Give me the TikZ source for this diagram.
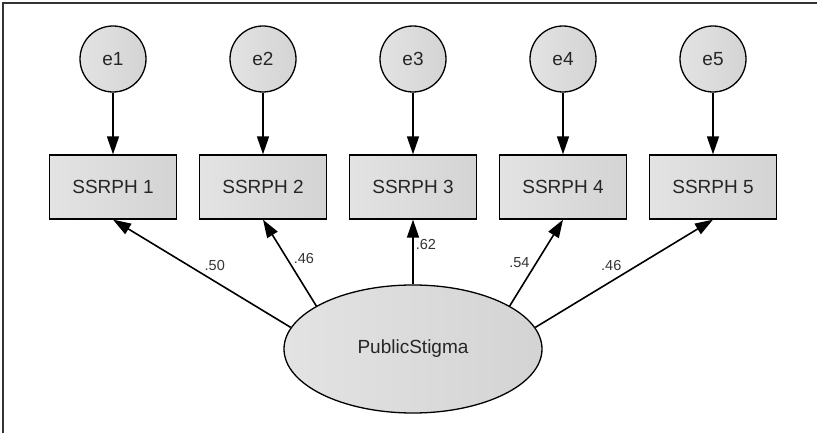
\documentclass[tikz,border=0pt]{standalone}
\usepackage{fontspec}
\setmainfont{Liberation Sans}
\usepackage{tikz}
\usetikzlibrary{positioning,shapes.geometric,arrows.meta}

\begin{document}
\begin{tikzpicture}[x=1pt, y=1pt, node distance=150pt, on grid,
    >={Triangle[length=18pt,width=12pt]},
    errvar/.style={circle, draw=black, line width=1.3pt, left color=black!11, right color=black!17,
        minimum size=66pt, inner sep=0pt, text=black!85, font=\fontsize{19}{22}\selectfont},
    indicator/.style={rectangle, draw=black, line width=1.3pt, left color=black!11, right color=black!17,
        minimum width=127pt, minimum height=64pt, inner sep=0pt, text=black!85, font=\fontsize{19}{22}\selectfont},
    latent/.style={ellipse, draw=black, line width=1.3pt, left color=black!11, right color=black!17,
        minimum width=258pt, minimum height=128pt, inner sep=0pt, text=black!85, font=\fontsize{19}{22}\selectfont},
    loading/.style={->, line width=1.6pt},
    weight/.style={inner sep=2pt, text=black!80, font=\fontsize{14.5}{17}\selectfont}]
    \useasboundingbox (0,0) rectangle (817,433);
    \draw[black!80, line width=1.5pt] (3,0) -- (3,430) -- (817,430);

    % Error terms
    \node[errvar] (e1) at (113,374) {e1};
    \node[errvar] (e2) [right=of e1] {e2};
    \node[errvar] (e3) [right=of e2] {e3};
    \node[errvar] (e4) [right=of e3] {e4};
    \node[errvar] (e5) [right=of e4] {e5};

    % Items
    \node[indicator] (ssrph1) [below=128pt of e1] {SSRPH 1};
    \node[indicator] (ssrph2) [below=128pt of e2] {SSRPH 2};
    \node[indicator] (ssrph3) [below=128pt of e3] {SSRPH 3};
    \node[indicator] (ssrph4) [below=128pt of e4] {SSRPH 4};
    \node[indicator] (ssrph5) [below=128pt of e5] {SSRPH 5};

    % Factor
    \node[latent] (stigma) [below=162pt of ssrph3] {PublicStigma};

    % Arrows
    \draw[loading] (e1) -- (ssrph1);
    \draw[loading] (e2) -- (ssrph2);
    \draw[loading] (e3) -- (ssrph3);
    \draw[loading] (e4) -- (ssrph4);
    \draw[loading] (e5) -- (ssrph5);

    \draw[loading] (stigma.170) -- (ssrph1.south) node[weight, pos=0.5, anchor=south west] {.50};
    \draw[loading] (stigma.156) -- (ssrph2.south) node[weight, pos=0.55, right=4pt] {.46};
    \draw[loading] (stigma.north) -- (ssrph3.south) node[weight, pos=0.62, anchor=west] {.62};
    \draw[loading] (stigma.24) -- (ssrph4.south) node[weight, pos=0.5, left=4pt] {.54};
    \draw[loading] (stigma.10) -- (ssrph5.south) node[weight, pos=0.5, anchor=south east] {.46};
\end{tikzpicture}
\end{document}
